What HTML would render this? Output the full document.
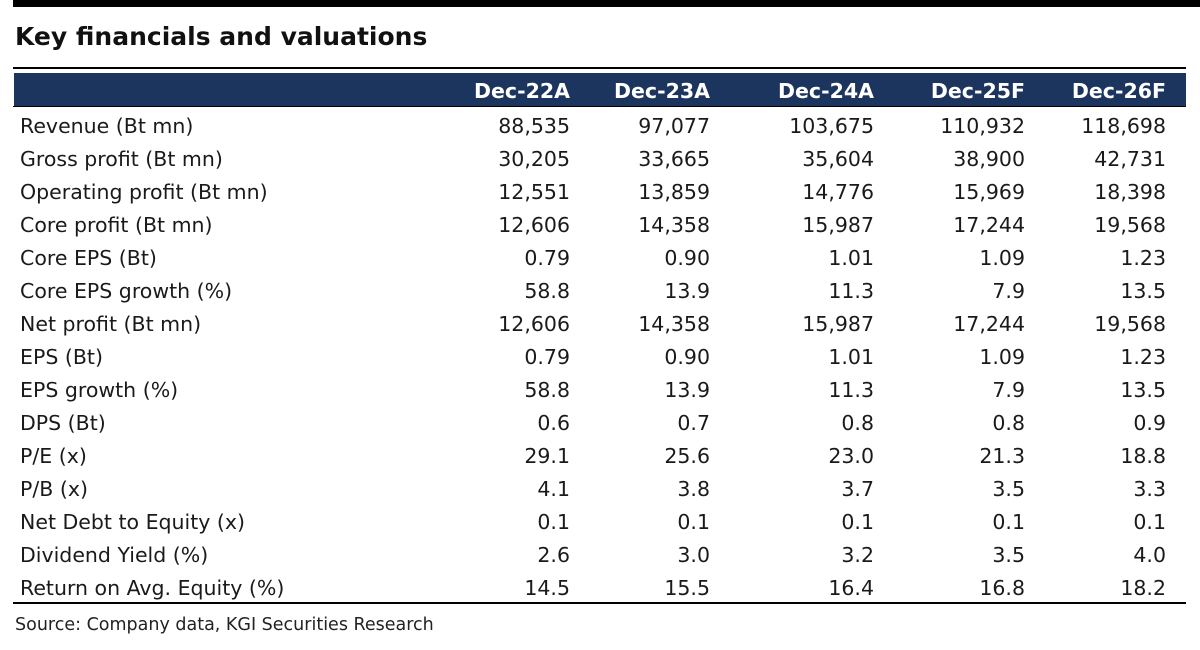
<!DOCTYPE html>
<html><head><style>
body{margin:0;width:1200px;height:650px;background:#fff;position:relative;overflow:hidden;font-family:"DejaVu Sans","Liberation Sans",sans-serif;color:#1a1a1a}
.a{position:absolute}
.r{position:absolute;height:33px;line-height:33px;font-size:20.5px;white-space:nowrap}
.n{text-align:right;width:140px}
</style></head><body>
<div class="a" style="left:13px;top:0;width:1187px;height:7px;background:#000"></div>
<div class="a" style="left:15px;top:22px;font-size:25px;font-weight:bold;color:#111">Key financials and valuations</div>
<div class="a" style="left:13px;top:67px;width:1173px;height:2px;background:#000"></div>
<div class="a" style="left:14px;top:73px;width:1172px;height:34px;background:#1c355e"></div>
<div class="a" style="left:13px;top:106px;width:1173px;height:1px;background:#000"></div>
<div id="t"></div>
<div class="a" style="left:13px;top:602px;width:1173px;height:2px;background:#000"></div>
<div class="a" style="left:15px;top:615px;font-size:17.5px;color:#222">Source: Company data, KGI Securities Research</div>
<script>
var cols=[570,710,874,1025,1166];
var hd=["Dec-22A","Dec-23A","Dec-24A","Dec-25F","Dec-26F"];
var rows=[["Revenue (Bt mn)","88,535","97,077","103,675","110,932","118,698"],
["Gross profit (Bt mn)","30,205","33,665","35,604","38,900","42,731"],
["Operating profit (Bt mn)","12,551","13,859","14,776","15,969","18,398"],
["Core profit (Bt mn)","12,606","14,358","15,987","17,244","19,568"],
["Core EPS (Bt)","0.79","0.90","1.01","1.09","1.23"],
["Core EPS growth (%)","58.8","13.9","11.3","7.9","13.5"],
["Net profit (Bt mn)","12,606","14,358","15,987","17,244","19,568"],
["EPS (Bt)","0.79","0.90","1.01","1.09","1.23"],
["EPS growth (%)","58.8","13.9","11.3","7.9","13.5"],
["DPS (Bt)","0.6","0.7","0.8","0.8","0.9"],
["P/E (x)","29.1","25.6","23.0","21.3","18.8"],
["P/B (x)","4.1","3.8","3.7","3.5","3.3"],
["Net Debt to Equity (x)","0.1","0.1","0.1","0.1","0.1"],
["Dividend Yield (%)","2.6","3.0","3.2","3.5","4.0"],
["Return on Avg. Equity (%)","14.5","15.5","16.4","16.8","18.2"]];
var h="";
hd.forEach(function(s,i){h+='<div class="r n" style="top:75px;left:'+(cols[i]-140)+'px;color:#fff;font-weight:bold;font-size:20.5px">'+s+'</div>';});
rows.forEach(function(r,j){var y=110+j*33;
h+='<div class="r" style="top:'+y+'px;left:20px">'+r[0]+'</div>';
for(var i=0;i<5;i++)h+='<div class="r n" style="top:'+y+'px;left:'+(cols[i]-140)+'px">'+r[i+1]+'</div>';});
document.getElementById("t").innerHTML=h;
</script>
</body></html>
